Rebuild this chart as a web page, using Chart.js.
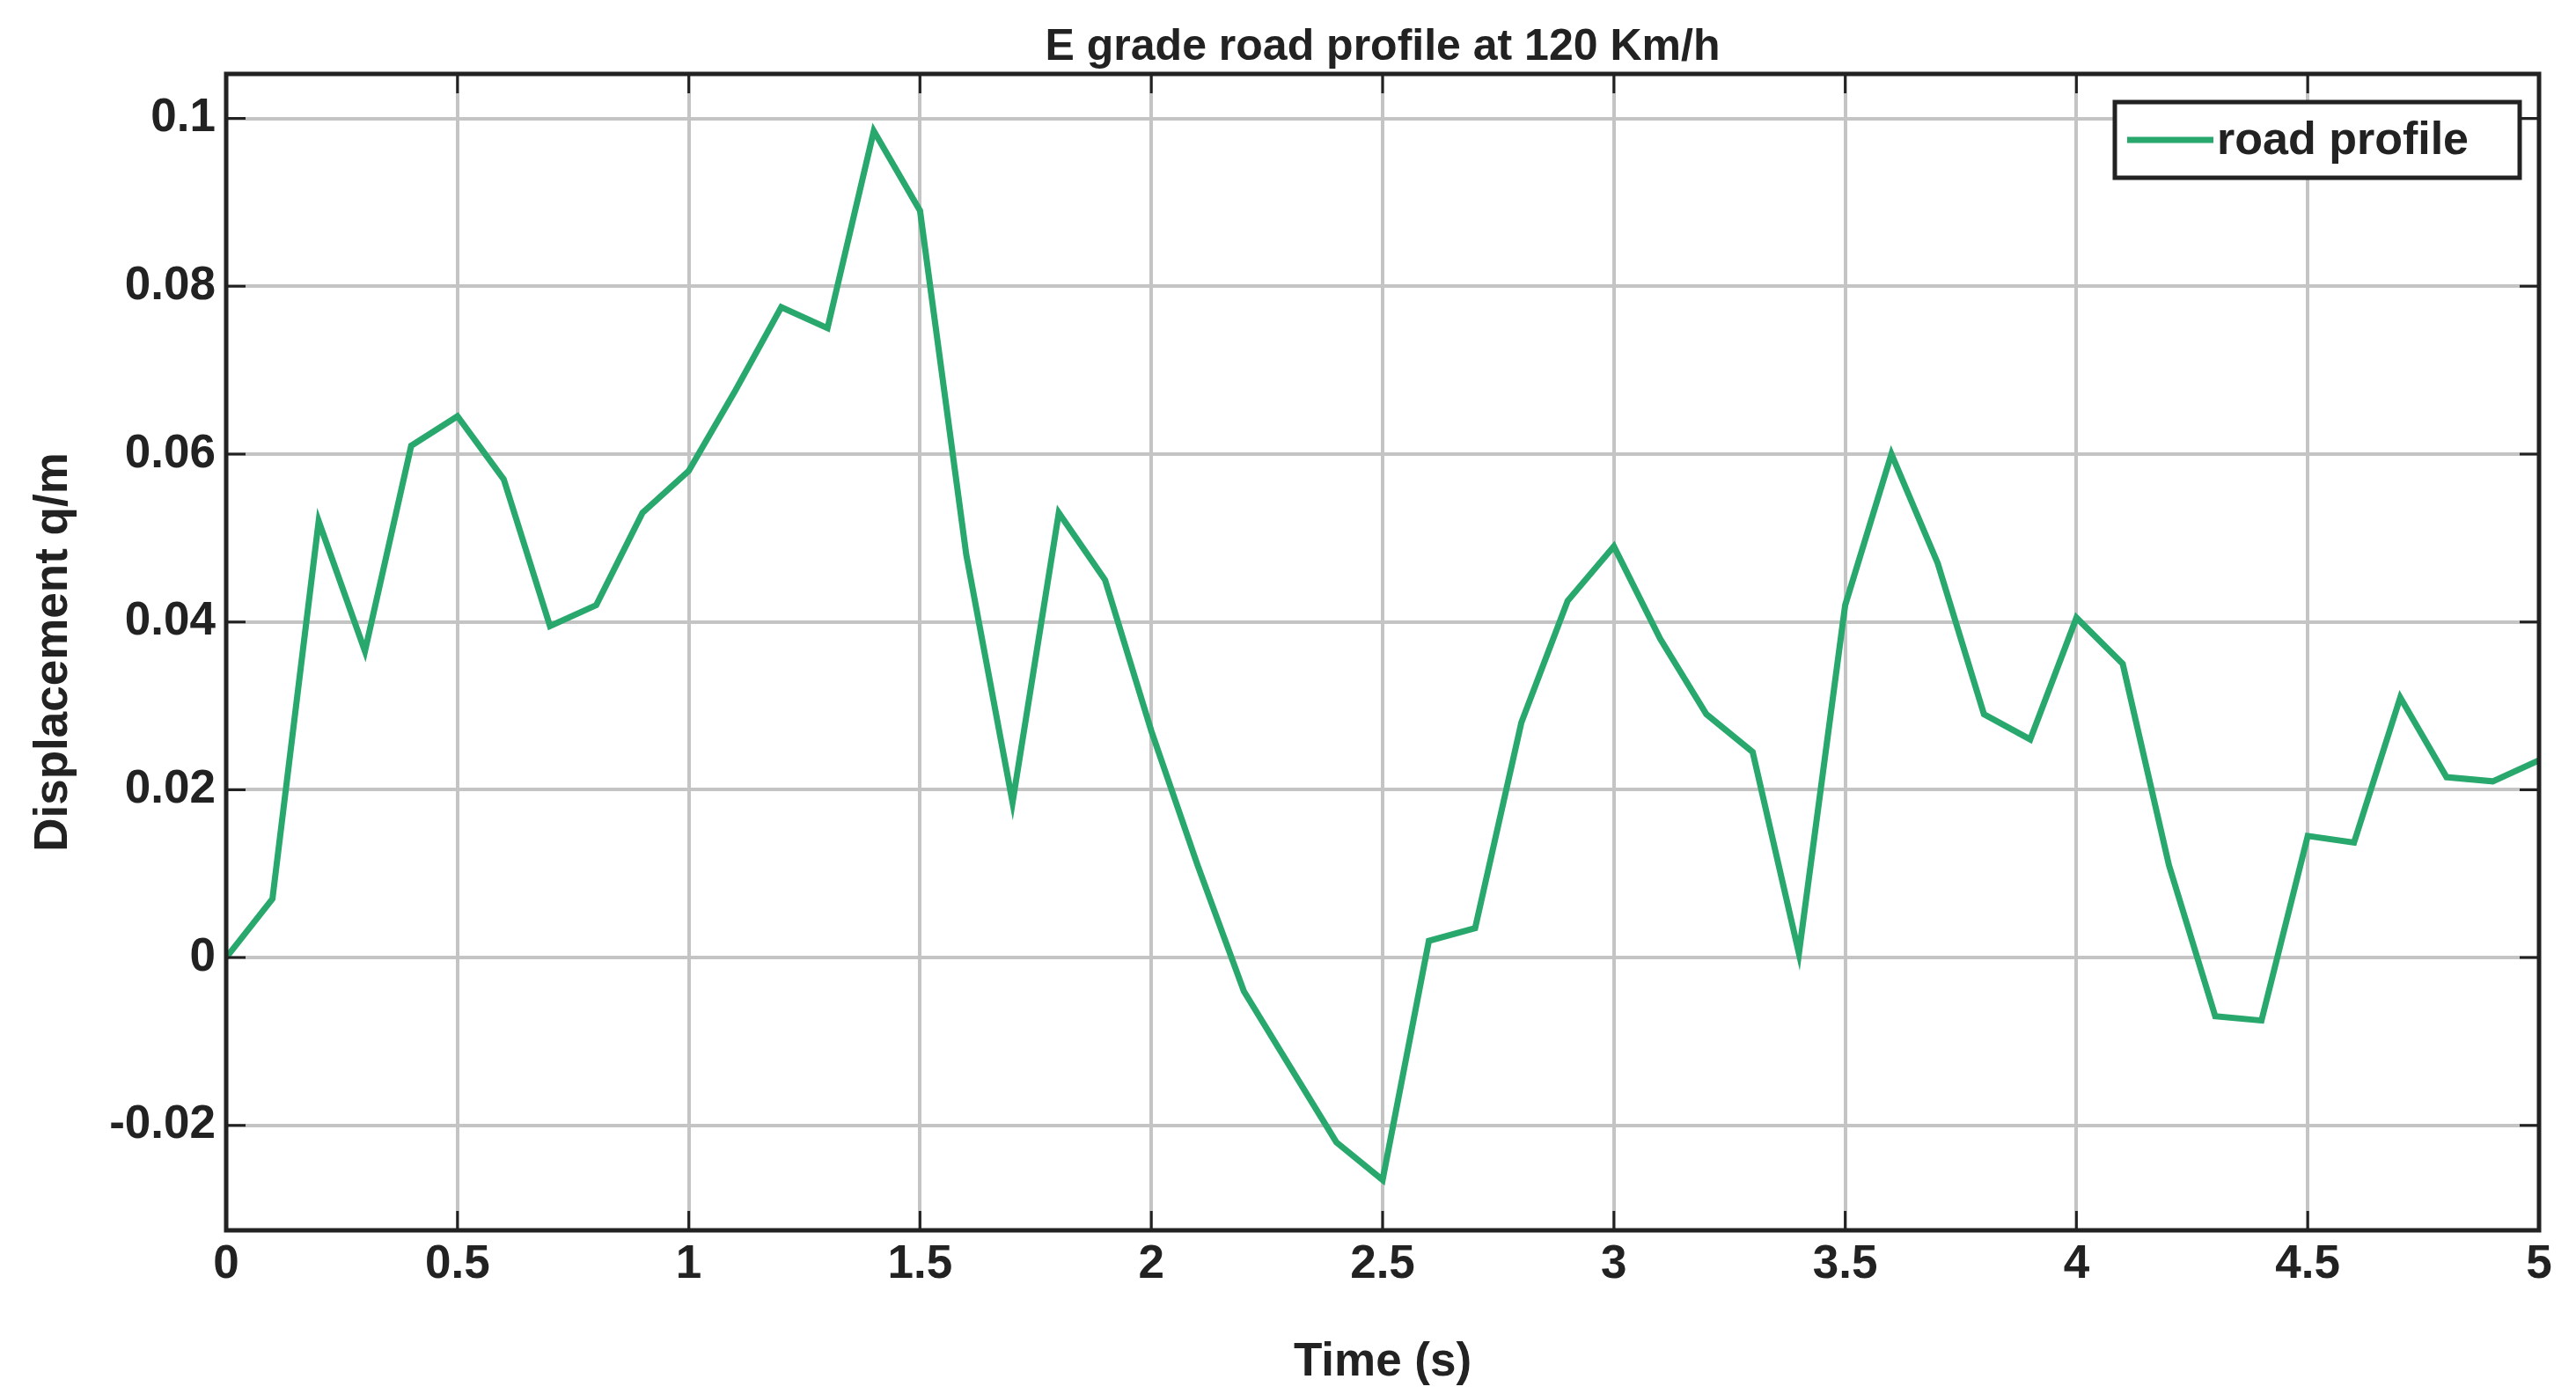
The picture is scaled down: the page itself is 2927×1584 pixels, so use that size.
<!DOCTYPE html>
<html><head><meta charset="utf-8">
<script src="https://cdn.jsdelivr.net/npm/chart.js@4"></script>
<style>html,body{margin:0;background:#fff}#w{width:2927px;height:1584px}</style>
</head><body><div id="w"><canvas id="c"></canvas></div>
<script>
const times = [0,0.1,0.2,0.3,0.4,0.5,0.6,0.7,0.8,0.9,1.0,1.1,1.2,1.3,1.4,1.5,1.6,1.7,1.8,1.9,2.0,2.1,2.2,2.3,2.4,2.5,2.6,2.7,2.8,2.9,3.0,3.1,3.2,3.3,3.4,3.5,3.6,3.7,3.8,3.9,4.0,4.1,4.2,4.3,4.4,4.5,4.6,4.7,4.8,4.9,5.0];
const displacement = [0,0.007,0.052,0.0365,0.061,0.0645,0.057,0.0395,0.042,0.053,0.058,0.0675,0.0775,0.075,0.0985,0.089,0.048,0.0185,0.053,0.045,0.027,0.011,-0.004,-0.013,-0.022,-0.0265,0.002,0.0035,0.028,0.0425,0.049,0.038,0.029,0.0245,0.0005,0.042,0.060,0.047,0.029,0.026,0.0405,0.035,0.011,-0.007,-0.0075,0.0145,0.0137,0.031,0.0215,0.021,0.0235];
const titleText = 'E grade road profile at 120 Km/h';
const xLabel = 'Time (s)', yLabel = 'Displacement q/m', seriesName = 'road profile';
const green = 'rgb(40,168,108)';
const F = '"Liberation Sans", Arial, sans-serif';
const fmt = v => String(Math.round(v*1000)/1000);
const deco = {
  id:'deco',
  afterDraw(ch){
    const {ctx, chartArea:a, scales:{x,y}} = ch;
    ctx.save();
    ctx.strokeStyle='#222'; ctx.lineWidth=5;
    ctx.strokeRect(a.left,a.top,a.right-a.left,a.bottom-a.top);
    ctx.lineWidth=3;
    x.ticks.forEach(t=>{const px=x.getPixelForValue(t.value);
      ctx.beginPath();ctx.moveTo(px,a.bottom);ctx.lineTo(px,a.bottom-22);ctx.moveTo(px,a.top);ctx.lineTo(px,a.top+22);ctx.stroke();});
    y.ticks.forEach(t=>{const py=y.getPixelForValue(t.value);
      ctx.beginPath();ctx.moveTo(a.left,py);ctx.lineTo(a.left+22,py);ctx.moveTo(a.right,py);ctx.lineTo(a.right-22,py);ctx.stroke();});
    ctx.fillStyle='#222'; ctx.font='bold 50px '+F; ctx.textAlign='center'; ctx.textBaseline='middle';
    ctx.fillText(titleText,(a.left+a.right)/2,54);
    const lx=2403, ly=116, lw=460, lh=86;
    ctx.fillStyle='#fff'; ctx.fillRect(lx,ly,lw,lh);
    ctx.lineWidth=5; ctx.strokeStyle='#222'; ctx.strokeRect(lx,ly,lw,lh);
    ctx.strokeStyle=green; ctx.lineWidth=7; ctx.beginPath(); ctx.moveTo(lx+14,ly+43); ctx.lineTo(lx+112,ly+43); ctx.stroke();
    ctx.fillStyle='#222'; ctx.textAlign='left'; ctx.font='bold 52px '+F;
    ctx.fillText(seriesName,lx+116,ly+45);
    ctx.restore();
  }
};
new Chart(document.getElementById('c'),{
  type:'line',
  data:{datasets:[{label:seriesName,data:times.map((t,i)=>({x:t,y:displacement[i]})),borderColor:green,borderWidth:7,pointRadius:0,tension:0,fill:false}]},
  options:{
    responsive:true,maintainAspectRatio:false,animation:false,
    layout:{padding:{top:84,right:42,left:0,bottom:0}},
    plugins:{legend:{display:false},title:{display:false},tooltip:{enabled:false}},
    scales:{
      x:{type:'linear',min:0,max:5,border:{display:false},
        ticks:{stepSize:0.5,font:{family:F,size:53,weight:'bold'},color:'#222',callback:fmt,maxRotation:0,padding:8},
        grid:{color:'#c4c4c4',lineWidth:4,drawTicks:false},
        title:{display:true,text:xLabel,font:{family:F,size:53,weight:'bold'},color:'#222',padding:{top:0}},
        afterFit(s){s.height=186;}},
      y:{min:-0.0325,max:0.1053,border:{display:false},
        ticks:{font:{family:F,size:53,weight:'bold'},color:'#222',callback:fmt,padding:12},
        afterBuildTicks(s){s.ticks=[-0.02,0,0.02,0.04,0.06,0.08,0.1].map(v=>({value:v}));},
        grid:{color:'#c4c4c4',lineWidth:4,drawTicks:false},
        title:{display:true,text:yLabel,font:{family:F,size:53,weight:'bold'},color:'#222',padding:{top:30,bottom:0}},
        afterFit(s){s.width=257;}}
    }
  },
  plugins:[deco]
});
</script></body></html>
